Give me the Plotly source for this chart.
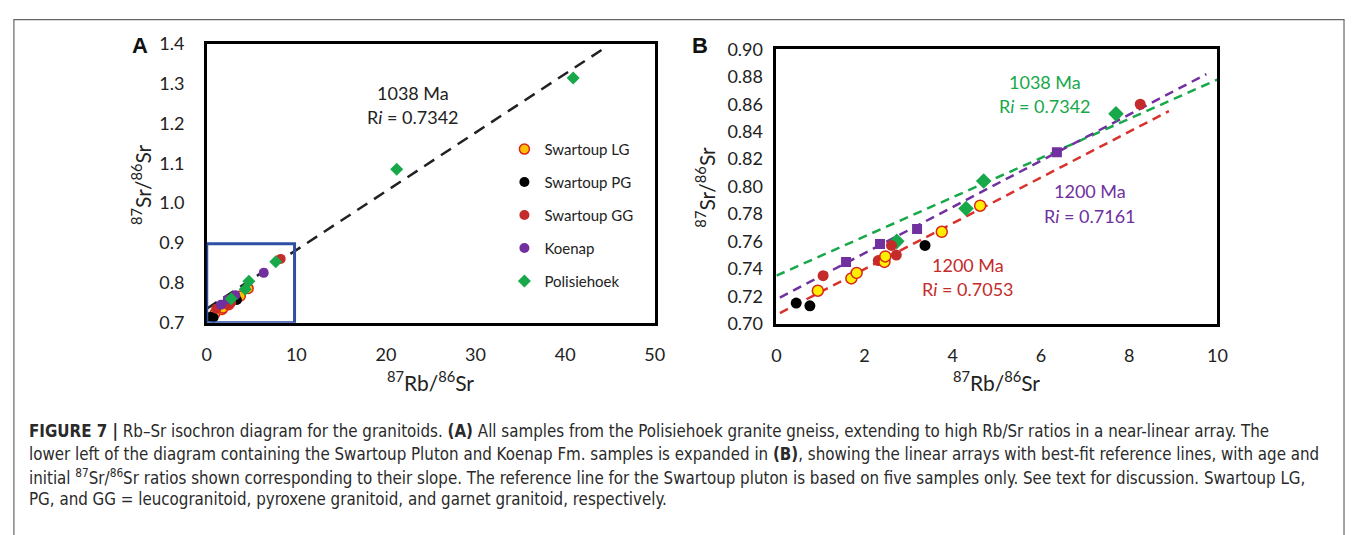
import plotly.graph_objects as go

W, H = 1355, 535

# ---------------- data ----------------
lg_x = [0.94, 1.70, 1.82, 2.45, 2.47, 3.75, 4.62]
lg_y = [0.724, 0.733, 0.737, 0.745, 0.749, 0.767, 0.786]
pg_x = [0.45, 0.76, 3.37]
pg_y = [0.715, 0.713, 0.757]
gg_x = [1.06, 2.31, 2.61, 2.72, 8.25]
gg_y = [0.735, 0.746, 0.757, 0.750, 0.860]
koe_x = [1.58, 2.35, 3.19, 6.36]
koe_y = [0.745, 0.758, 0.769, 0.825]
pol_x = [2.73, 4.30, 4.70, 7.70, 21.2, 40.9]
pol_y = [0.760, 0.784, 0.804, 0.853, 1.085, 1.314]

# reference isochrons
isoA_x = [0.0, 44.2]
isoA_y = [0.735, 1.386]
isoB_green_x = [0.0, 10.0]
isoB_green_y = [0.735, 0.878]
isoB_purple_x = [0.08, 9.75]
isoB_purple_y = [0.719, 0.882]
isoB_red_x = [0.08, 8.9]
isoB_red_y = [0.7077, 0.855]

# zoom box in panel A
zoom_x = [0.0, 9.8]
zoom_y = [0.70, 0.898]

series_names = ["Swartoup LG", "Swartoup PG", "Swartoup GG", "Koenap", "Polisiehoek"]

# ---------------- styles ----------------
FONT = "Lato, Carlito, 'Open Sans', sans-serif"
GREEN = "#17A84A"
PURPLE = "#7030A0"
RED = "#C42B2B"
REDLINE = "#D8322C"
BLUE = "#2E4FA3"

def px(x):
    return x / W

def py(y):
    return 1 - y / H

fig = go.Figure()

# ---------- panel A ----------
fig.add_trace(go.Scatter(x=isoA_x, y=isoA_y, mode="lines", xaxis="x", yaxis="y",
                         line=dict(color="#222", width=2.5, dash="12px,8px"),
                         showlegend=False, hoverinfo="skip"))
fig.add_trace(go.Scatter(x=lg_x, y=lg_y, mode="markers", name=series_names[0], xaxis="x", yaxis="y",
                         marker=dict(symbol="circle", size=10, color="#FFC000",
                                     line=dict(color="#D9261C", width=1.5)), legendgroup="a"))
fig.add_trace(go.Scatter(x=pg_x, y=pg_y, mode="markers", name=series_names[1], xaxis="x", yaxis="y",
                         marker=dict(symbol="circle", size=10, color="#000000"), legendgroup="b"))
fig.add_trace(go.Scatter(x=gg_x, y=gg_y, mode="markers", name=series_names[2], xaxis="x", yaxis="y",
                         marker=dict(symbol="circle", size=10, color=RED), legendgroup="c"))
fig.add_trace(go.Scatter(x=koe_x, y=koe_y, mode="markers", name=series_names[3], xaxis="x", yaxis="y",
                         marker=dict(symbol="circle", size=10, color=PURPLE), legendgroup="d"))
fig.add_trace(go.Scatter(x=pol_x, y=pol_y, mode="markers", name=series_names[4], xaxis="x", yaxis="y",
                         marker=dict(symbol="diamond", size=10, color=GREEN), legendgroup="e"))

# ---------- panel B ----------
for xs, ys, c in [(isoB_green_x, isoB_green_y, GREEN),
                  (isoB_purple_x, isoB_purple_y, PURPLE),
                  (isoB_red_x, isoB_red_y, REDLINE)]:
    fig.add_trace(go.Scatter(x=xs, y=ys, mode="lines", xaxis="x2", yaxis="y2",
                             line=dict(color=c, width=2.5, dash="9px,6px"),
                             showlegend=False, hoverinfo="skip"))

fig.add_trace(go.Scatter(x=koe_x, y=koe_y, mode="markers", xaxis="x2", yaxis="y2", showlegend=False,
                         marker=dict(symbol="square", size=10, color=PURPLE)))
fig.add_trace(go.Scatter(x=pol_x, y=pol_y, mode="markers", xaxis="x2", yaxis="y2", showlegend=False,
                         marker=dict(symbol="diamond", size=12, color=GREEN)))
fig.add_trace(go.Scatter(x=gg_x, y=gg_y, mode="markers", xaxis="x2", yaxis="y2", showlegend=False,
                         marker=dict(symbol="circle", size=11, color=RED)))
fig.add_trace(go.Scatter(x=pg_x, y=pg_y, mode="markers", xaxis="x2", yaxis="y2", showlegend=False,
                         marker=dict(symbol="circle", size=11, color="#000000")))
fig.add_trace(go.Scatter(x=lg_x, y=lg_y, mode="markers", xaxis="x2", yaxis="y2", showlegend=False,
                         marker=dict(symbol="circle", size=11, color="#FFEE00",
                                     line=dict(color="#D9261C", width=1.5))))

axis_common = dict(showgrid=False, zeroline=False, showline=True, mirror=True,
                   linecolor="#000", linewidth=2.5, ticks="outside",
                   tickcolor="rgba(0,0,0,0)",
                   tickfont=dict(family=FONT, size=18, color="#222"))

fig.update_layout(
    width=W, height=H,
    margin=dict(l=0, r=0, t=0, b=0),
    paper_bgcolor="white", plot_bgcolor="white",
    xaxis=dict(domain=[px(204), px(657)], range=[0, 50], dtick=10, anchor="y",
               ticklen=14, **axis_common),
    yaxis=dict(domain=[py(324), py(33)], range=[0.7, 1.4], dtick=0.1, tickformat=".1f",
               anchor="x", ticklen=16, **axis_common),
    xaxis2=dict(domain=[px(780), px(1226)], range=[0, 10], dtick=2, anchor="y2",
                ticklen=14, **axis_common),
    yaxis2=dict(domain=[py(325), py(39)], range=[0.70, 0.90], dtick=0.02, tickformat=".2f",
                anchor="x2", ticklen=7, **axis_common),
    legend=dict(x=px(505), y=py(126), xanchor="left", yanchor="top",
                font=dict(family=FONT, size=15, color="#222"),
                bgcolor="rgba(0,0,0,0)", tracegroupgap=10.5, itemwidth=30),
    showlegend=True,
)

# zoom box
fig.add_shape(type="rect", xref="x", yref="y", x0=zoom_x[0], x1=zoom_x[1], y0=zoom_y[0], y1=zoom_y[1],
              line=dict(color=BLUE, width=3), layer="above")
# outer frame
fig.add_shape(type="rect", xref="paper", yref="paper", x0=px(9), x1=px(1354), y0=-0.05, y1=py(8),
              line=dict(color="#666", width=1.2), layer="above")

ann = []
def add(text, x, y, size, color="#222", xref="paper", yref="paper", family=FONT, xanchor="center",
        yanchor="middle", angle=0):
    ann.append(dict(text=text, x=x, y=y, xref=xref, yref=yref, showarrow=False,
                    font=dict(family=family, size=size, color=color), xanchor=xanchor,
                    yanchor=yanchor, textangle=angle))

# panel letters
add("<b>A</b>", px(137), py(35), 22, "#111", family="Liberation Sans, Arial, sans-serif")
add("<b>B</b>", px(703), py(35), 22, "#111", family="Liberation Sans, Arial, sans-serif")

# axis titles
add("<sup>87</sup>Rb/<sup>86</sup>Sr", px(430), py(385), 21)
add("<sup>87</sup>Rb/<sup>86</sup>Sr", px(1003), py(385), 21)
add("<sup>87</sup>Sr/<sup>86</sup>Sr", px(137), py(180), 21, angle=-90)
add("<sup>87</sup>Sr/<sup>86</sup>Sr", px(708), py(183), 21, angle=-90)

# isochron labels
add("1038 Ma", 23.0, 1.276, 18, "#222", xref="x", yref="y")
add("R<i>i</i> = 0.7342", 23.0, 1.215, 18, "#222", xref="x", yref="y")
add("1038 Ma", 6.08, 0.876, 18, GREEN, xref="x2", yref="y2")
add("R<i>i</i> = 0.7342", 6.08, 0.8585, 18, GREEN, xref="x2", yref="y2")
add("1200 Ma", 7.11, 0.7967, 18, PURPLE, xref="x2", yref="y2")
add("R<i>i</i> = 0.7161", 7.11, 0.7788, 18, PURPLE, xref="x2", yref="y2")
add("1200 Ma", 4.35, 0.7431, 18, RED, xref="x2", yref="y2")
add("R<i>i</i> = 0.7053", 4.35, 0.7256, 18, RED, xref="x2", yref="y2")

# caption
CAP = "'Liberation Sans Narrow', 'DejaVu Sans Condensed', 'Arial Narrow', sans-serif"
cap_lines = [
    "<b>FIGURE 7 |</b> Rb–Sr isochron diagram for the granitoids. <b>(A)</b> All samples from the Polisiehoek granite gneiss, extending to high Rb/Sr ratios in a near-linear array. The",
    "lower left of the diagram containing the Swartoup Pluton and Koenap Fm. samples is expanded in <b>(B)</b>, showing the linear arrays with best-fit reference lines, with age and",
    "initial <sup>87</sup>Sr/<sup>86</sup>Sr ratios shown corresponding to their slope. The reference line for the Swartoup pluton is based on five samples only. See text for discussion. Swartoup LG,",
    "PG, and GG = leucogranitoid, pyroxene granitoid, and garnet granitoid, respectively.",
]
cap_y = [437, 461, 485, 508]
for t, yy in zip(cap_lines, cap_y):
    add(t, px(22), py(yy), 16.8, "#2a2a2a", family=CAP, xanchor="left")

fig.update_layout(annotations=ann)
fig.write_html("out.html")
